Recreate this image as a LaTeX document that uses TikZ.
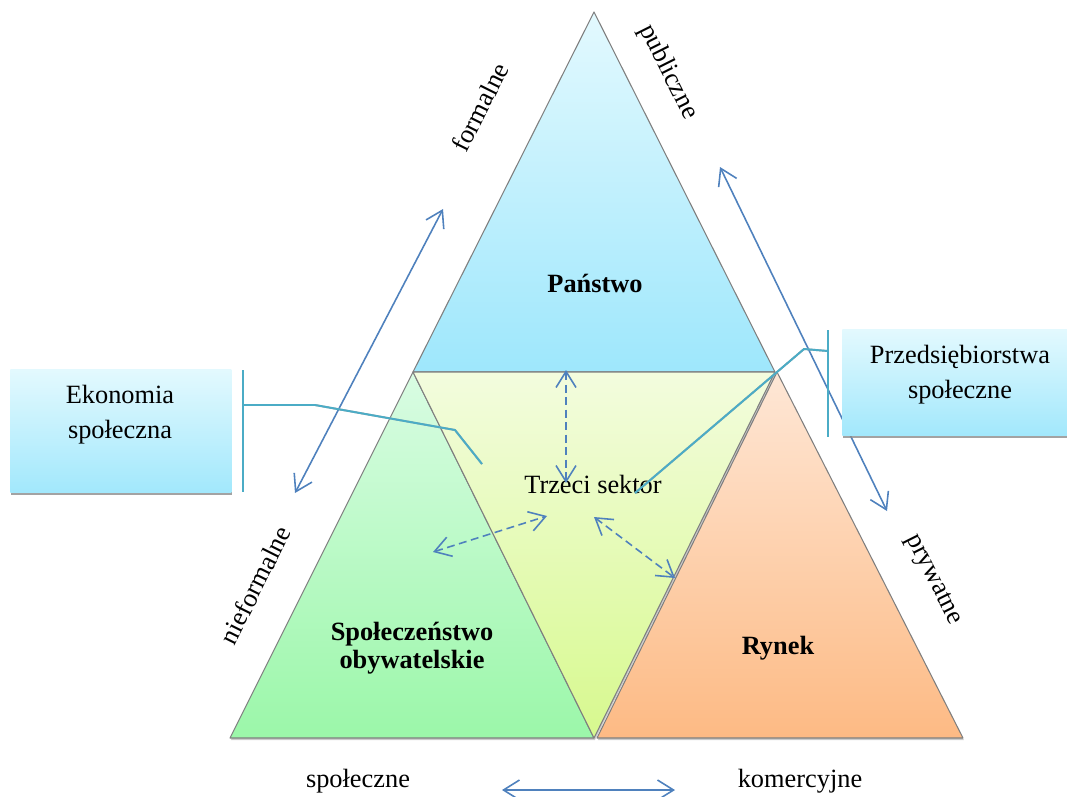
\documentclass[tikz,border=0pt]{standalone}
\usepackage{fontspec}
\setmainfont{Liberation Serif}
\usetikzlibrary{arrows.meta,shadows}

\definecolor{arrowblue}{HTML}{4F81BD}
\definecolor{calloutteal}{HTML}{4BACC6}
\definecolor{edgegray}{HTML}{7F7F7F}
\definecolor{stateTop}{HTML}{E3F9FE}
\definecolor{stateBot}{HTML}{9EE7FC}
\definecolor{thirdTop}{HTML}{F3FCDE}
\definecolor{thirdBot}{HTML}{D7F98E}
\definecolor{civTop}{HTML}{D9FCE3}
\definecolor{civBot}{HTML}{9BF7A9}
\definecolor{mktTop}{HTML}{FEE7D6}
\definecolor{mktBot}{HTML}{FDBA84}
\definecolor{boxTop}{HTML}{E3F9FE}
\definecolor{boxBot}{HTML}{A2E8FC}

\begin{document}
\begin{tikzpicture}[x=0.02cm,y=-0.02cm,
  every node/.style={font=\fontsize{15}{20}\selectfont, inner sep=0pt},
  sector/.style={draw=edgegray, line width=0.6pt, line join=round,
    drop shadow={shadow xshift=0.5pt, shadow yshift=-1.2pt, fill=black!45, opacity=0.45}},
  infobox/.style={rectangle, top color=boxTop, bottom color=boxBot,
    drop shadow={shadow xshift=0.6pt, shadow yshift=-1.6pt, fill=black!45, opacity=0.8}},
  barb/.tip={Straight Barb[length=0.32cm,width=0.4cm]},
  twoway/.style={arrowblue, line width=0.9pt, barb-barb},
  dashway/.style={twoway, dash pattern=on 4.5pt off 2.6pt},
  calloutline/.style={calloutteal, line width=1.1pt, line join=round},
  calloutshade/.style={black!35, line width=1.1pt, line join=round},
  sidelabel/.style={anchor=center},
  sectorname/.style={font=\fontsize{15}{16}\selectfont\bfseries, align=center}
]
\useasboundingbox (0,0) rectangle (1067,796);

% corner points of the four sectors
\coordinate (apex) at (594,12);
\coordinate (ul) at (413,372);
\coordinate (ur) at (775,372);
\coordinate (bm) at (594,738);
\coordinate (bl) at (230,738);
\coordinate (rapex) at (777,372);
\coordinate (rl) at (597,738);
\coordinate (rr) at (963,738);

% sectors
\path[sector, top color=stateTop, bottom color=stateBot] (apex) -- (ur) -- (ul) -- cycle;
\path[sector, top color=civTop, bottom color=civBot] (ul) -- (bm) -- (bl) -- cycle;
\path[sector, top color=thirdTop, bottom color=thirdBot] (ul) -- (ur) -- (bm) -- cycle;
\path[sector, top color=mktTop, bottom color=mktBot] (rapex) -- (rr) -- (rl) -- cycle;

% sector names
\node[sectorname] (panstwo) at (595,283) {Państwo};
\node (trzeci) at (593,484) {Trzeci sektor};
\node[sectorname] (spol) at (412,648) {Społeczeństwo\\obywatelskie};
\node[sectorname] (rynek) at (778,648) {Rynek};

% side labels
\node[sidelabel, rotate=63.4] (formalne) at (480,107) {formalne};
\node[sidelabel, rotate=-63.4] (publiczne) at (668,72) {publiczne};
\node[sidelabel, rotate=63.4] (nieformalne) at (255,585) {nieformalne};
\node[sidelabel, rotate=-63.4] (prywatne) at (933,580) {prywatne};
\node (spoleczne) at (358,781) {społeczne};
\node (komercyjne) at (800,781) {komercyjne};

% axis arrows
\coordinate (fa) at (443,209);
\coordinate (fb) at (295,493);
\coordinate (pa) at (720,167);
\coordinate (pb) at (887,511);
\coordinate (sa) at (502,790);
\coordinate (sb) at (675,790);
\draw[twoway] (fa) -- (fb);
\draw[twoway] (pa) -- (pb);
\draw[twoway] (sa) -- (sb);

% exchanges with the third sector
\coordinate (d1a) at (566,370);
\coordinate (d1b) at (566,483);
\coordinate (d2a) at (433,552);
\coordinate (d2b) at (547,516);
\coordinate (d3a) at (594,517);
\coordinate (d3b) at (675,578);
\draw[dashway] (d1a) -- (d1b);
\draw[dashway] (d2a) -- (d2b);
\draw[dashway] (d3a) -- (d3b);

% callout boxes
\node[infobox, minimum width=4.42cm, minimum height=2.46cm, anchor=north west] (ekonbox) at (10,369) {};
\node[align=center] (ekon) at (120,415) {Ekonomia\\społeczna};
\node[infobox, minimum width=4.6cm, minimum height=2.12cm, anchor=north west] (przedbox) at (842,329) {};
\node[align=center] (przed) at (960,375) {Przedsiębiorstwa\\społeczne};

% callout leaders
\coordinate (lb1) at (243,370);
\coordinate (lb2) at (243,492);
\coordinate (l1) at (244,405);
\coordinate (l2) at (315,405);
\coordinate (l3) at (455,430);
\coordinate (l4) at (482,464);
\draw[calloutshade, shift={(-1,3)}] (l1) -- (l2) -- (l3) -- (l4);
\draw[calloutline] (l1) -- (l2) -- (l3) -- (l4);
\draw[calloutline] (lb1) -- (lb2);

\coordinate (rb1) at (828,330);
\coordinate (rb2) at (828,437);
\coordinate (r1) at (828,351);
\coordinate (r2) at (804,349);
\coordinate (r3) at (635,493);
\draw[calloutshade, shift={(0,3)}] (r1) -- (r2) -- (r3);
\draw[calloutline] (r1) -- (r2) -- (r3);
\draw[calloutline] (rb1) -- (rb2);
\end{tikzpicture}
\end{document}
